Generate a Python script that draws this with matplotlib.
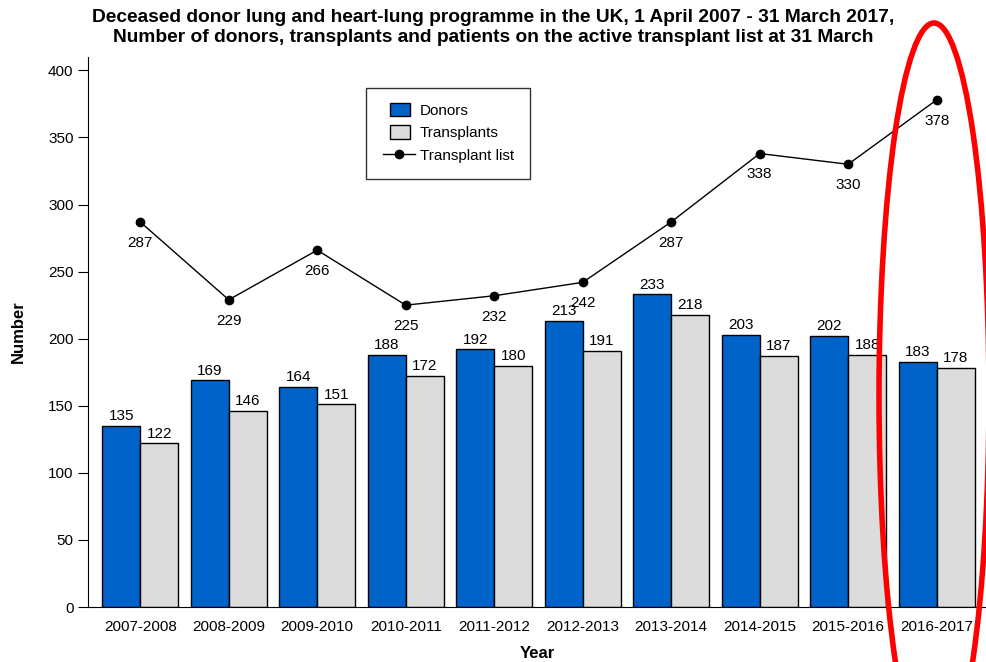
import matplotlib.pyplot as plt
import numpy as np
from matplotlib.patches import Ellipse, Rectangle
from matplotlib.legend_handler import HandlerPatch

plt.rcParams['font.family'] = ['Liberation Sans', 'DejaVu Sans']

years = ['2007-2008', '2008-2009', '2009-2010', '2010-2011', '2011-2012',
         '2012-2013', '2013-2014', '2014-2015', '2015-2016', '2016-2017']
donors = [135, 169, 164, 188, 192, 213, 233, 203, 202, 183]
transplants = [122, 146, 151, 172, 180, 191, 218, 187, 188, 178]
transplant_list = [287, 229, 266, 225, 232, 242, 287, 338, 330, 378]

fig = plt.figure(figsize=(9.87, 6.62), dpi=100)
ax = fig.add_axes([0.0892, 0.083, 0.91, 0.831])

x = np.arange(len(years))
w = 0.43
b1 = ax.bar(x - w / 2, donors, w, color='#0063CA', edgecolor='black', linewidth=1, label='Donors')
b2 = ax.bar(x + w / 2, transplants, w, color='#DCDCDC', edgecolor='black', linewidth=1, label='Transplants')
ln, = ax.plot(x, transplant_list, color='black', linewidth=1, marker='o', markersize=6, label='Transplant list')

# value labels
for xi, v in zip(x, donors):
    ax.annotate(str(v), (xi - w / 2, v), xytext=(0, 2), textcoords='offset points',
                ha='center', va='bottom', fontsize=11)
for xi, v in zip(x, transplants):
    ax.annotate(str(v), (xi + w / 2, v), xytext=(0, 2), textcoords='offset points',
                ha='center', va='bottom', fontsize=11)
for xi, v in zip(x, transplant_list):
    ax.annotate(str(v), (xi, v), xytext=(0, -10), textcoords='offset points',
                ha='center', va='top', fontsize=11)

ax.set_xlim(-0.59, 9.56)
ax.set_ylim(0, 410)
ax.set_yticks(range(0, 401, 50))
ax.set_xticks(x)
ax.set_xticklabels(years, fontsize=11)
ax.tick_params(axis='y', labelsize=11, length=7)
ax.tick_params(axis='x', length=0, pad=9)
ax.spines['top'].set_visible(False)
ax.spines['right'].set_visible(False)

ax.set_ylabel('Number', fontsize=12, fontweight='bold', labelpad=16)
ax.set_xlabel('Year', fontsize=12, fontweight='bold', labelpad=9)
fig.text(0.5, 1 - 27.5 / 662,
         'Deceased donor lung and heart-lung programme in the UK, 1 April 2007 - 31 March 2017,\n'
         'Number of donors, transplants and patients on the active transplant list at 31 March',
         fontsize=13.8, fontweight='bold', ha='center', va='center', linespacing=1.25)


def small_rect(legend, orig_handle, xdescent, ydescent, width, height, fontsize):
    return Rectangle((-xdescent + 0.22 * width, -ydescent - 1), 0.64 * width, height + 2)


h1 = b1.patches[0]
h2 = b2.patches[0]
leg = ax.legend(handles=[h1, h2, ln], labels=['Donors', 'Transplants', 'Transplant list'],
                loc='upper left', bbox_to_anchor=(0.31, 0.944), borderaxespad=0,
                fontsize=11, frameon=True, fancybox=False, edgecolor='black',
                borderpad=1.05, handlelength=2.1, handletextpad=0.35, labelspacing=0.55,
                handler_map={h1: HandlerPatch(patch_func=small_rect),
                             h2: HandlerPatch(patch_func=small_rect)})
leg.get_frame().set_linewidth(1)

# red highlight round the last year
el = Ellipse((934 / 987, 1 - 396 / 662), 110 / 987, 746 / 662, transform=fig.transFigure,
             fill=False, edgecolor='red', linewidth=4)
fig.add_artist(el)

fig.savefig('out.png', dpi=100)
